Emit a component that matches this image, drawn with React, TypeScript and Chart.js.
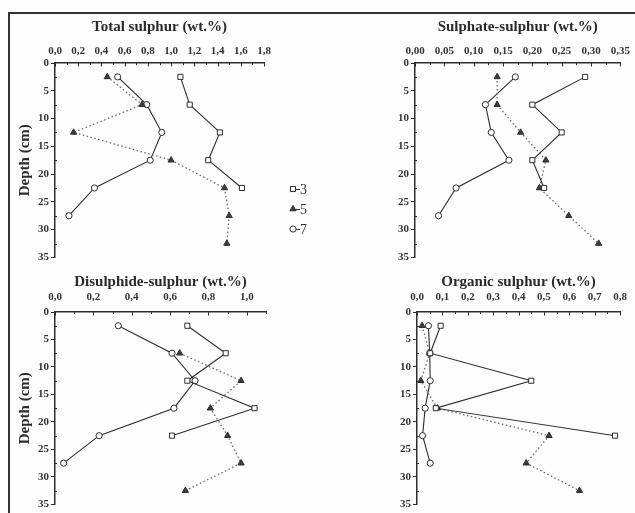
import React, { useEffect, useRef } from "react";
import { Chart, registerables } from "chart.js";
import { drawPoint } from "chart.js/helpers";

Chart.register(...registerables);

// ---------- data ----------
const depths = [2.5, 7.5, 12.5, 17.5, 22.5, 27.5, 32.5];
const seriesLabels = ["3", "5", "7"];

const totalS3 = [1.08, 1.16, 1.42, 1.32, 1.61, null, null];
const totalS5 = [0.45, 0.75, 0.16, 1.0, 1.46, 1.5, 1.48];
const totalS7 = [0.54, 0.79, 0.92, 0.82, 0.34, 0.12, null];

const sulphateS3 = [0.29, 0.2, 0.25, 0.2, 0.22, null, null];
const sulphateS5 = [0.14, 0.14, 0.18, 0.223, 0.212, 0.262, 0.313];
const sulphateS7 = [0.171, 0.12, 0.13, 0.16, 0.07, 0.04, null];

const disulphideS3 = [0.69, 0.89, 0.69, 1.04, 0.61, null, null];
const disulphideS5 = [null, 0.65, 0.97, 0.81, 0.9, 0.97, 0.68];
const disulphideS7 = [0.33, 0.61, 0.73, 0.62, 0.23, 0.045, null];

const organicS3 = [0.093, 0.052, 0.45, 0.074, 0.78, null, null];
const organicS5 = [0.02, 0.05, 0.015, 0.08, 0.52, 0.43, 0.64];
const organicS7 = [0.045, 0.05, 0.052, 0.032, 0.022, 0.052, null];

const depthTicks = [0, 5, 10, 15, 20, 25, 30, 35];
const totalTicks = [0, 0.2, 0.4, 0.6, 0.8, 1.0, 1.2, 1.4, 1.6, 1.8];
const sulphateTicks = [0, 0.05, 0.1, 0.15, 0.2, 0.25, 0.3, 0.35];
const disulphideTicks = [0, 0.2, 0.4, 0.6, 0.8, 1.0];
const organicTicks = [0, 0.1, 0.2, 0.3, 0.4, 0.5, 0.6, 0.7, 0.8];

// ---------- styles ----------
const FONT = "'Liberation Serif', 'DejaVu Serif', serif";
const INK = "#2e2e2e";

const seriesStyles = [
  { pointStyle: "rect", radius: 3.6, bg: "#ffffff", line: INK, dash: [] as number[], lw: 1.1 },
  { pointStyle: "triangle", radius: 3.6, bg: "#3c3c3c", line: "#6a6a6a", dash: [1.5, 2.5], lw: 1.3 },
  { pointStyle: "circle", radius: 3.1, bg: "#ffffff", line: INK, dash: [] as number[], lw: 1.1 },
];

const toPoints = (vals: (number | null)[]) =>
  depths
    .map((d, i) => (vals[i] === null || vals[i] === undefined ? null : { x: vals[i] as number, y: d }))
    .filter((p) => p !== null);

const inTicksPlugin = {
  id: "inTicks",
  afterDraw(chart: any, _args: any, opts: any) {
    const ctx = chart.ctx;
    const xs = chart.scales.x;
    const ys = chart.scales.y;
    const a = chart.chartArea;
    const xt: number[] = opts.xTicks || [];
    if (!xt.length) return;
    ctx.save();
    ctx.strokeStyle = INK;
    ctx.lineWidth = 1;
    const step = xt[1] - xt[0];
    ctx.beginPath();
    xt.forEach((v) => {
      const px = Math.round(xs.getPixelForValue(v)) + 0.5;
      ctx.moveTo(px, a.top);
      ctx.lineTo(px, a.top + 3.5);
      const m = v + step / 2;
      if (m <= xs.max + 1e-9) {
        const pm = Math.round(xs.getPixelForValue(m)) + 0.5;
        ctx.moveTo(pm, a.top);
        ctx.lineTo(pm, a.top + 2);
      }
    });
    for (let d = 2.5; d < 35; d += 5) {
      const py = Math.round(ys.getPixelForValue(d)) + 0.5;
      ctx.moveTo(a.left, py);
      ctx.lineTo(a.left + 2, py);
    }
    ctx.stroke();
    ctx.restore();
  },
};

const legendPlugin = {
  id: "sideLegend",
  afterDraw(chart: any, _args: any, opts: any) {
    if (!opts || !opts.show) return;
    const ctx = chart.ctx;
    ctx.save();
    chart.data.datasets.forEach((ds: any, i: number) => {
      const y = opts.ys[i];
      const x = opts.x;
      ctx.strokeStyle = INK;
      ctx.lineWidth = 1;
      ctx.beginPath();
      ctx.moveTo(x + 2, y + 0.5);
      ctx.lineTo(x + 7, y + 0.5);
      ctx.stroke();
      ctx.fillStyle = ds.pointBackgroundColor;
      ctx.strokeStyle = ds.pointBorderColor;
      ctx.lineWidth = 1;
      drawPoint(ctx, { pointStyle: ds.pointStyle, radius: ds.pointRadius, borderWidth: 1, rotation: 0 } as any, x, y);
      ctx.fillStyle = "#333";
      ctx.font = `14px ${FONT}`;
      ctx.textBaseline = "middle";
      ctx.textAlign = "left";
      ctx.fillText(ds.label, x + 7, y + 1);
    });
    ctx.restore();
  },
};

type PanelCfg = {
  left: number;
  top: number;
  w: number;
  h: number;
  yW: number;
  xH: number;
  pr: number;
  pb: number;
  xMax: number;
  xTicks: number[];
  dec: number;
  title: string;
  titlePad: number;
  tickPad: number;
  yTitle: boolean;
  legend: boolean;
  series: (number | null)[][];
};

const panels: PanelCfg[] = [
  {
    left: 0, top: 0, w: 318, h: 266, yW: 55, xH: 63, pr: 54, pb: 8,
    xMax: 1.8, xTicks: totalTicks, dec: 1, title: "Total sulphur (wt.%)", titlePad: 18, tickPad: 5,
    yTitle: true, legend: true, series: [totalS3, totalS5, totalS7],
  },
  {
    left: 318, top: 0, w: 317, h: 266, yW: 97, xH: 63, pr: 13, pb: 8,
    xMax: 0.35, xTicks: sulphateTicks, dec: 2, title: "Sulphate-sulphur (wt.%)", titlePad: 18, tickPad: 5,
    yTitle: false, legend: false, series: [sulphateS3, sulphateS5, sulphateS7],
  },
  {
    left: 0, top: 266, w: 318, h: 247, yW: 55, xH: 46, pr: 52, pb: 6,
    xMax: 1.1, xTicks: disulphideTicks, dec: 1, title: "Disulphide-sulphur (wt.%)", titlePad: 7, tickPad: 8,
    yTitle: true, legend: false, series: [disulphideS3, disulphideS5, disulphideS7],
  },
  {
    left: 318, top: 266, w: 317, h: 247, yW: 99, xH: 46, pr: 13, pb: 6,
    xMax: 0.8, xTicks: organicTicks, dec: 1, title: "Organic sulphur (wt.%)", titlePad: 7, tickPad: 8,
    yTitle: false, legend: false, series: [organicS3, organicS5, organicS7],
  },
];

function buildConfig(p: PanelCfg): any {
  const datasets = p.series.map((vals, i) => {
    const s = seriesStyles[i];
    return {
      label: seriesLabels[i],
      data: toPoints(vals),
      borderColor: s.line,
      borderWidth: s.lw,
      borderDash: s.dash,
      pointStyle: s.pointStyle,
      pointRadius: s.radius,
      pointBackgroundColor: s.bg,
      pointBorderColor: INK,
      pointBorderWidth: 1,
      fill: false,
      tension: 0,
      showLine: true,
    };
  });
  return {
    type: "line",
    data: { datasets },
    options: {
      animation: false,
      responsive: false,
      devicePixelRatio: 1,
      events: [],
      layout: { padding: { left: 0, top: 0, right: p.pr, bottom: p.pb } },
      plugins: {
        legend: { display: false },
        tooltip: { enabled: false },
        inTicks: { xTicks: p.xTicks },
        sideLegend: { show: p.legend, x: 293, ys: [189, 209, 229] },
      },
      scales: {
        x: {
          type: "linear",
          position: "top",
          min: 0,
          max: p.xMax,
          afterBuildTicks: (s: any) => {
            s.ticks = p.xTicks.map((v) => ({ value: v }));
          },
          afterFit: (s: any) => {
            s.height = p.xH;
          },
          grid: { display: false, drawTicks: false },
          border: { display: true, color: INK, width: 1.5 },
          ticks: {
            padding: p.tickPad,
            maxRotation: 0,
            color: "#333",
            font: { family: FONT, size: 11, weight: "bold" },
            callback: (v: any) => Number(v).toFixed(p.dec).replace(".", ","),
          },
          title: {
            display: true,
            text: p.title,
            color: "#2a2a2a",
            font: { family: FONT, size: 15, weight: "bold" },
            padding: { top: p.titlePad, bottom: 0 },
          },
        },
        y: {
          type: "linear",
          reverse: true,
          min: 0,
          max: 35,
          afterBuildTicks: (s: any) => {
            s.ticks = depthTicks.map((v) => ({ value: v }));
          },
          afterFit: (s: any) => {
            s.width = p.yW;
          },
          grid: { display: true, drawOnChartArea: false, drawTicks: true, tickLength: 4, tickColor: INK, tickWidth: 1 },
          border: { display: true, color: INK, width: 1.5 },
          ticks: {
            padding: 2,
            color: "#333",
            font: { family: FONT, size: 11, weight: "bold" },
          },
          title: {
            display: p.yTitle,
            text: "Depth (cm)",
            color: "#2a2a2a",
            font: { family: FONT, size: 15, weight: "bold" },
            padding: { top: 16, bottom: 0 },
          },
        },
      },
    },
    plugins: [inTicksPlugin, legendPlugin],
  };
}

function Panel({ cfg }: { cfg: PanelCfg }) {
  const ref = useRef<HTMLCanvasElement | null>(null);
  useEffect(() => {
    if (!ref.current) return;
    const chart = new Chart(ref.current, buildConfig(cfg));
    return () => chart.destroy();
  }, [cfg]);
  return (
    <canvas
      ref={ref}
      width={cfg.w}
      height={cfg.h}
      style={{ position: "absolute", left: cfg.left, top: cfg.top, width: cfg.w, height: cfg.h }}
    />
  );
}

export default function App() {
  return (
    <div
      style={{
        position: "absolute",
        left: 0,
        top: 0,
        width: 635,
        height: 513,
        overflow: "hidden",
        background: "#fdfdfd",
      }}
    >
      <div
        style={{
          position: "absolute",
          left: 8,
          top: 12,
          width: 700,
          height: 600,
          borderTop: "2px solid #333",
          borderLeft: "2px solid #333",
        }}
      />
      {panels.map((p, i) => (
        <Panel key={i} cfg={p} />
      ))}
    </div>
  );
}
